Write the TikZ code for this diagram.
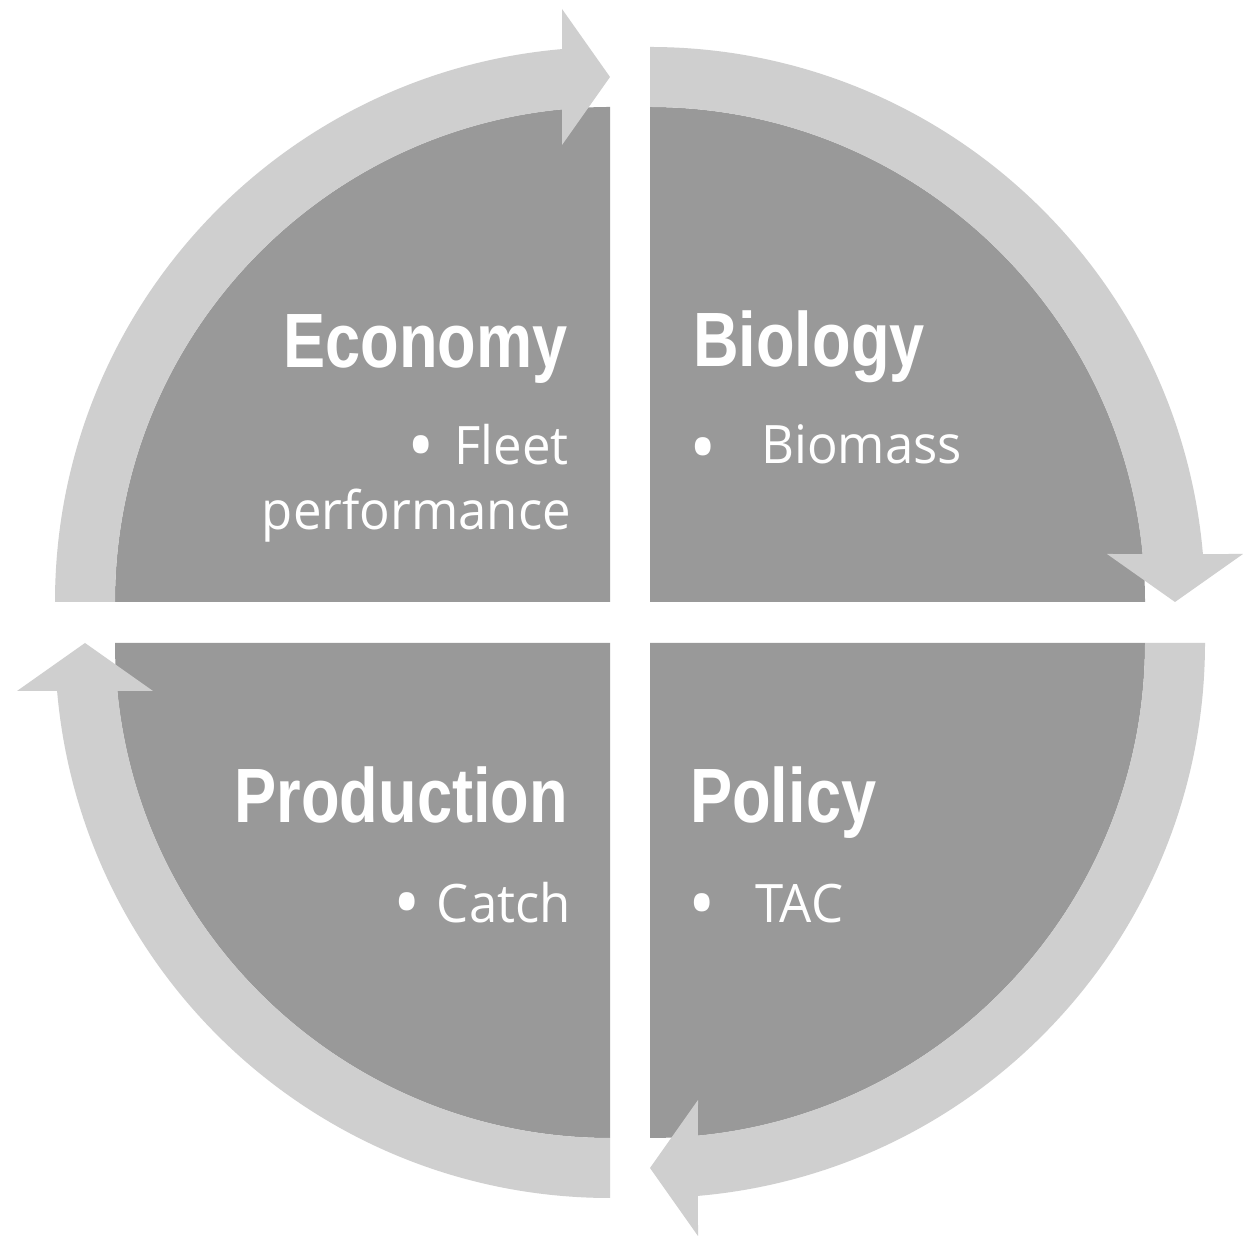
\documentclass[tikz,border=0pt]{standalone}
\usepackage{fontspec}
\newfontfamily\titlefont[FakeStretch=0.82]{Liberation Sans}
\newfontfamily\bodyfont[FakeStretch=0.96]{Open Sans}
\definecolor{darkq}{HTML}{999999}
\definecolor{lightq}{HTML}{CFCFCF}
\tikzset{
  quad/.style={fill=darkq, draw=none},
  band/.style={fill=lightq, draw=none},
  title/.style={text=white, inner sep=0pt, font=\titlefont\bfseries\fontsize{77}{80}\selectfont},
  body/.style={text=white, inner sep=0pt, font=\bodyfont\fontsize{53}{65}\selectfont},
  bullet/.style={text=white, inner sep=0pt, font=\bodyfont\fontsize{76}{80}\selectfont},
}
\newcommand{\quadsector}{(0,0) -- (180:495) arc[start angle=180, end angle=90, radius=495] -- cycle}
\newcommand{\arrowband}{(180:495) -- (180:555) arc[start angle=180, end angle=94.96, radius=555] -- (-48,593) -- (0,525) -- (-48,457) -- (95.56:495) arc[start angle=95.56, end angle=180, radius=495] -- cycle}
\begin{document}
\begin{tikzpicture}[x=1pt, y=1pt]
\useasboundingbox[fill=white] (0,0) rectangle (1243,1237);
\coordinate (ctl) at (610,635);
\coordinate (ctr) at (650,635);
\coordinate (cbr) at (650,594);
\coordinate (cbl) at (610,594);
% dark quadrants
\begin{scope}[shift={(ctl)}] \fill[quad] \quadsector; \end{scope}
\begin{scope}[shift={(ctr)}, rotate=-90] \fill[quad] \quadsector; \end{scope}
\begin{scope}[shift={(cbr)}, rotate=-180] \fill[quad] \quadsector; \end{scope}
\begin{scope}[shift={(cbl)}, rotate=-270] \fill[quad] \quadsector; \end{scope}
% light arrow bands
\begin{scope}[shift={(ctl)}] \fill[band] \arrowband; \end{scope}
\begin{scope}[shift={(ctr)}, rotate=-90] \fill[band] \arrowband; \end{scope}
\begin{scope}[shift={(cbr)}, rotate=-180] \fill[band] \arrowband; \end{scope}
\begin{scope}[shift={(cbl)}, rotate=-270] \fill[band] \arrowband; \end{scope}
% texts
\node[title, anchor=base east] (economy) at (568,869) {Economy};
\node[title, anchor=base west] (biology) at (693,870) {Biology};
\node[title, anchor=base east] (production) at (568,414) {Production};
\node[title, anchor=base west] (policy) at (690,414) {Policy};
\node[bullet, anchor=center] (b1) at (421,783) {•};
\node[body, anchor=base east] (fleet) at (569,772) {Fleet};
\node[body, anchor=base east] (perf) at (571,707) {performance};
\node[bullet, anchor=center] (b2) at (703,781) {•};
\node[body, anchor=base west] (biomass) at (761,773) {Biomass};
\node[bullet, anchor=center] (b3) at (407,326) {•};
\node[body, anchor=base east] (catch) at (571,314) {Catch};
\node[bullet, anchor=center] (b4) at (702,325) {•};
\node[body, anchor=base west] (tac) at (755,314) {TAC};
\end{tikzpicture}
\end{document}
